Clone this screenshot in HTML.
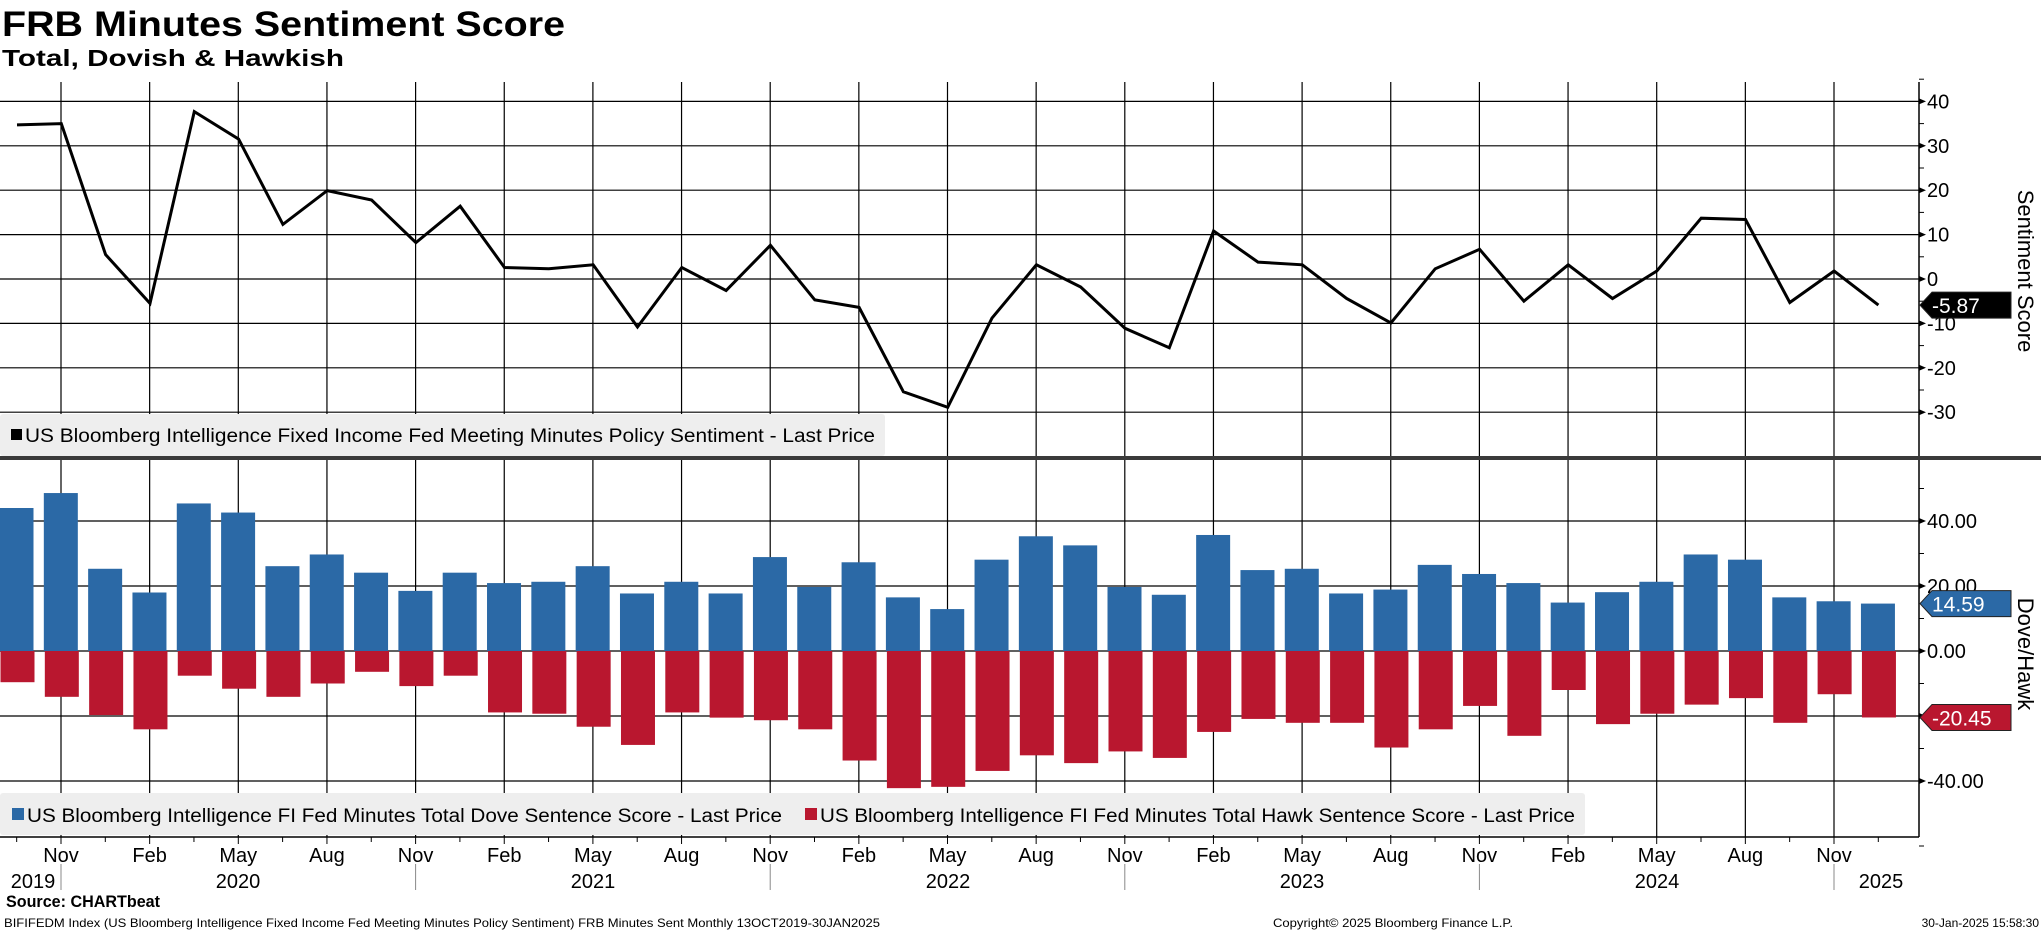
<!DOCTYPE html>
<html><head><meta charset="utf-8"><style>
html,body{margin:0;padding:0;background:#fff;}
svg{display:block;font-family:"Liberation Sans",sans-serif;}
</style></head><body>
<svg id="chart" width="2041" height="932" viewBox="0 0 2041 932" xmlns="http://www.w3.org/2000/svg">
<text x="2" y="36" font-size="35" font-weight="bold" textLength="563" lengthAdjust="spacingAndGlyphs">FRB Minutes Sentiment Score</text>
<text x="2" y="66" font-size="23" font-weight="bold" textLength="342" lengthAdjust="spacingAndGlyphs">Total, Dovish &amp; Hawkish</text>
<g id="grid"></g>
<g id="bars"></g>
<g id="line"></g>
<g id="axes"></g>
<g>
<rect x="0" y="414" width="885" height="42" fill="#eeeeee" rx="3"/>
<rect x="11" y="429" width="11" height="11" fill="#000"/>
<text x="25" y="442" font-size="19" textLength="850" lengthAdjust="spacingAndGlyphs">US Bloomberg Intelligence Fixed Income Fed Meeting Minutes Policy Sentiment - Last Price</text>
</g>
<rect x="0" y="456" width="2041" height="4" fill="#3a3a3a"/>
<g>
<rect x="0" y="793" width="1585" height="42" fill="#eeeeee" rx="3"/>
<rect x="12" y="808" width="12" height="12" fill="#2b69a6"/>
<text x="27" y="822" font-size="19" textLength="755" lengthAdjust="spacingAndGlyphs">US Bloomberg Intelligence FI Fed Minutes Total Dove Sentence Score - Last Price</text>
<rect x="805" y="808" width="12" height="12" fill="#b9172f"/>
<text x="820" y="822" font-size="19" textLength="755" lengthAdjust="spacingAndGlyphs">US Bloomberg Intelligence FI Fed Minutes Total Hawk Sentence Score - Last Price</text>
</g>
<text transform="translate(2018,271) rotate(90)" text-anchor="middle" font-size="22">Sentiment Score</text>
<text transform="translate(2018,654) rotate(90)" text-anchor="middle" font-size="22">Dove/Hawk</text>
<text x="6" y="907" font-size="17" font-weight="bold" textLength="154" lengthAdjust="spacingAndGlyphs">Source: CHARTbeat</text>
<text x="4" y="927" font-size="12" textLength="876" lengthAdjust="spacingAndGlyphs">BIFIFEDM Index (US Bloomberg Intelligence Fixed Income Fed Meeting Minutes Policy Sentiment) FRB Minutes Sent  Monthly 13OCT2019-30JAN2025</text>
<text x="1273" y="927" font-size="12" textLength="240" lengthAdjust="spacingAndGlyphs">Copyright© 2025 Bloomberg Finance L.P.</text>
<text x="2039" y="927" font-size="12" text-anchor="end">30-Jan-2025 15:58:30</text>
</svg>
<script>
var sentiment = [34.7,35,5.5,-5.5,37.7,31.5,12.3,19.9,17.8,8.2,16.4,2.6,2.3,3.2,-10.8,2.6,-2.6,7.6,-4.7,-6.4,-25.4,-28.9,-8.8,3.2,-1.8,-11.1,-15.5,10.8,3.8,3.2,-4.4,-9.9,2.3,6.7,-5.0,3.2,-4.4,1.8,13.7,13.4,-5.3,1.8,-5.87];
var dove = [44,48.6,25.3,18,45.4,42.6,26.1,29.7,24.1,18.5,24.1,20.9,21.3,26.1,17.7,21.3,17.7,28.9,19.7,27.3,16.5,12.9,28.1,35.3,32.5,19.7,17.3,35.7,24.9,25.3,17.7,18.9,26.5,23.7,20.9,14.9,18.1,21.3,29.7,28.1,16.5,15.3,14.59];
var hawk = [-9.6,-14.1,-19.7,-24.1,-7.6,-11.6,-14.1,-10,-6.4,-10.8,-7.6,-18.9,-19.3,-23.3,-28.9,-18.9,-20.5,-21.3,-24.1,-33.7,-42.2,-41.8,-36.9,-32.1,-34.5,-30.9,-32.9,-24.9,-20.9,-22.1,-22.1,-29.7,-24.1,-16.9,-26.1,-12,-22.5,-19.3,-16.5,-14.5,-22.1,-13.3,-20.45];
var monthLabels = ["Nov","Feb","May","Aug","Nov","Feb","May","Aug","Nov","Feb","May","Aug","Nov","Feb","May","Aug","Nov","Feb","May","Aug","Nov"];
var yearLabels = ["2019","2020","2021","2022","2023","2024","2025"];
var topTicks = [40,30,20,10,0,-10,-20,-30];
var bottomTicks = [40,20,0,-20,-40];

var NS="http://www.w3.org/2000/svg";
function mk(tag,attrs,parent,txt){var e=document.createElementNS(NS,tag);for(var k in attrs)e.setAttribute(k,attrs[k]);if(txt!==undefined)e.textContent=txt;parent.appendChild(e);return e;}
var AX=1919;
function xi(i){return 17+i*44.32;}            // data point index -> x
function xm(m){return 61+m*29.55;}            // months since Nov 2019 -> x
function yTop(v){return 279-v*4.44;}
function yBot(v){return 651-v*3.25;}
var grid=document.getElementById('grid'),bars=document.getElementById('bars'),lineG=document.getElementById('line'),axes=document.getElementById('axes');

// vertical grid lines
for(var k=0;k<monthLabels.length;k++){
  var x=xm(k*3);
  var gl=mk('line',{x1:x,x2:x,y1:82,y2:837,stroke:'#000','stroke-width':1.2},grid);
  
  
}
topTicks.forEach(function(t){
  var y=yTop(t);
  var l=mk('line',{x1:0,x2:AX,y1:y,y2:y,stroke:'#000','stroke-width':1.2},grid);
  
  
  var lab=mk('text',{x:1927,y:y+7,'font-size':20},axes,String(t));
  
  
  mk('path',{d:'M'+AX+','+(y-3)+' L'+(AX+7)+','+y+' L'+AX+','+(y+3)+'Z',fill:'#000'},axes);
  mk('line',{x1:AX,x2:AX+5,y1:y-22.2,y2:y-22.2,stroke:'#000'},axes);
});
bottomTicks.forEach(function(t){
  var y=yBot(t);
  var l=mk('line',{x1:0,x2:AX,y1:y,y2:y,stroke:'#000','stroke-width':1.2},grid);
  
  
  var lab=mk('text',{x:1927,y:y+7,'font-size':20},axes,t.toFixed(2));
  
  
  mk('path',{d:'M'+AX+','+(y-3)+' L'+(AX+7)+','+y+' L'+AX+','+(y+3)+'Z',fill:'#000'},axes);
  mk('line',{x1:AX,x2:AX+5,y1:y-32.5,y2:y-32.5,stroke:'#000'},axes);
});
mk('line',{x1:AX,x2:AX+5,y1:yBot(-60),y2:yBot(-60),stroke:'#000'},axes);

// bars
for(var i=0;i<dove.length;i++){
  var b=mk('rect',{x:xi(i)-17.5,width:34,y:yBot(dove[i]),height:yBot(0)-yBot(dove[i]),fill:'#2b69a6'},bars);
  
  
  var h=mk('rect',{x:xi(i)-16.5,width:34,y:yBot(0),height:yBot(hawk[i])-yBot(0),fill:'#b9172f'},bars);
  
  
}
// line
var d='';
for(var i=0;i<sentiment.length;i++){d+=(i?'L':'M')+xi(i).toFixed(1)+','+yTop(sentiment[i]).toFixed(1);}
var pl=mk('path',{d:d,fill:'none',stroke:'#000','stroke-width':3,'stroke-linejoin':'miter'},lineG);



// axes lines
mk('line',{x1:AX,x2:AX,y1:82,y2:837,stroke:'#000','stroke-width':1.5},axes);
mk('line',{x1:0,x2:AX,y1:837,y2:837,stroke:'#000','stroke-width':1.5},axes);
for(var k=0;k<monthLabels.length;k++){
  var x=xm(k*3);
  mk('line',{x1:x,x2:x,y1:837,y2:844,stroke:'#000'},axes);
  mk('line',{x1:x+44.3,x2:x+44.3,y1:837,y2:842,stroke:'#000'},axes);
  var ml=mk('text',{x:x,y:862,'font-size':20,'text-anchor':'middle'},axes,monthLabels[k]);
  
  
}
mk('line',{x1:xm(-1.5),x2:xm(-1.5),y1:837,y2:842,stroke:'#000'},axes);
var yearX=[33,238,593,948,1302,1657,1881];
for(var j=0;j<yearLabels.length;j++){
  var yl=mk('text',{x:yearX[j],y:888,'font-size':20,'text-anchor':'middle'},axes,yearLabels[j]);
  
  
}
for(var j=0;j<6;j++){var x=xm(j*12);mk('line',{x1:x,x2:x,y1:864,y2:890,stroke:'#888'},axes);}

// value badges
function badge(y,fill,txt,name){
  var g=mk('g',{},axes);
  
  
  mk('path',{d:'M1920,'+y+' L1932,'+(y-13)+' L2011,'+(y-13)+' L2011,'+(y+13)+' L1932,'+(y+13)+'Z',fill:fill,stroke:'#222','stroke-width':1},g);
  mk('text',{x:1932,y:y+8,'font-size':21,fill:'#fff'},g,txt);
}
badge(yTop(sentiment[sentiment.length-1]),'#000',sentiment[sentiment.length-1].toFixed(2),'last-sentiment-badge');
badge(yBot(dove[dove.length-1]),'#2b69a6',dove[dove.length-1].toFixed(2),'last-dove-badge');
badge(yBot(hawk[hawk.length-1]),'#b9172f',hawk[hawk.length-1].toFixed(2),'last-hawk-badge');
</script>
</body></html>
